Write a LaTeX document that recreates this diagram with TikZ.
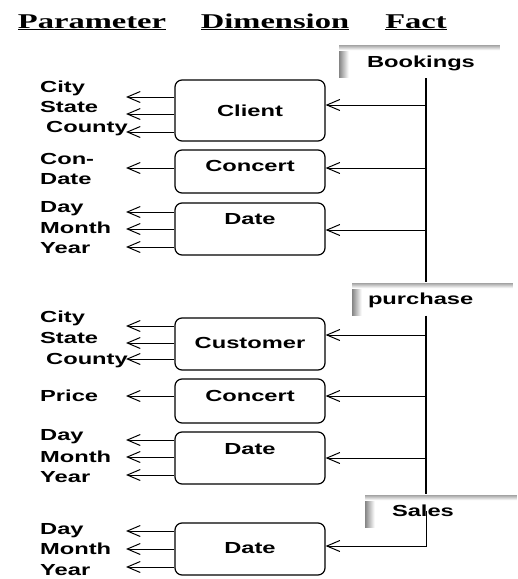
\documentclass[tikz,border=0pt]{standalone}
\usepackage{fontspec}
\newfontfamily\lblfont{Liberation Sans}[FakeStretch=1.48]
\newfontfamily\hdfont{Liberation Serif}[FakeStretch=1.55]
\usetikzlibrary{arrows.meta,calc,positioning}

\begin{document}
\begin{tikzpicture}[x=1pt,y=-1pt,
every node/.style={inner sep=0pt,font=\lblfont\bfseries\fontsize{16}{19}\selectfont},
head/.style={font=\hdfont\bfseries\fontsize{21}{24}\selectfont,anchor=base},
parm/.style={anchor=base west},
dim/.style={draw,line width=1.2pt,rounded corners=7pt,minimum width=150pt,text height=11.5pt,text depth=#1},
dim/.default=0pt,
fact/.style={text width=#1,align=left,minimum height=33pt,text height=11.5pt,text depth=0pt,
  path picture={
    \foreach \i [evaluate=\i as \c using int(48-5*\i)] in {0,...,9}
      \fill[black!\c] ([xshift=\i*1pt]path picture bounding box.north west) rectangle ([xshift=\i*1pt+1pt]path picture bounding box.south west);
    \foreach \i [evaluate=\i as \c using int(36-7*\i)] in {0,...,5}
      \fill[black!\c] ([yshift=-\i*1pt]path picture bounding box.north west) rectangle ([yshift=-\i*1pt-1pt]path picture bounding box.north east);}},
conn/.style={line width=1pt,-{Straight Barb[length=13pt,width=11pt]}}]
\useasboundingbox (0,0) rectangle (518,579);

% headings
\node[head] (H1) at (92,28) {\underline{Parameter}};
\node[head] (H2) at (275,28) {\underline{Dimension}};
\node[head] (H3) at (416,28) {\underline{Fact}};

% facts
\node[fact=161pt] (F1) at (419.5,61.5) {\hspace*{28pt}Bookings};
\node[fact=161pt] (F2) at (432.5,299) {\hspace*{16pt}purchase};
\node[fact=152pt] (F3) at (441,511) {\hspace*{27pt}Sales};
\coordinate (S) at (426,0);

% dimensions
\node[dim,minimum height=61pt] (D1) at (250,110.5) {Client};
\node[dim=11pt,minimum height=43pt] (D2) at (250,171.5) {Concert};
\node[dim=20pt,minimum height=52pt] (D3) at (250,229) {Date};
\node[dim=2pt,minimum height=52pt] (D4) at (250,344) {Customer};
\node[dim=11pt,minimum height=44pt] (D5) at (250,401) {Concert};
\node[dim=18pt,minimum height=52pt] (D6) at (250,458) {Date};
\node[dim=2pt,minimum height=52pt] (D7) at (250,549) {Date};

% parameters
\node[parm] (P1) at (40,92) {City};
\node[parm] (P2) at (40,112) {State};
\node[parm] (P3) at (46,132) {County};
\node[parm] (P4) at (40,164) {Con-};
\node[parm] (P5) at (40,184) {Date};
\node[parm] (P6) at (40,212) {Day};
\node[parm] (P7) at (40,233) {Month};
\node[parm] (P8) at (40,253) {Year};
\node[parm] (P9) at (40,322) {City};
\node[parm] (P10) at (40,343) {State};
\node[parm] (P11) at (46,364) {County};
\node[parm] (P12) at (40,401) {Price};
\node[parm] (P13) at (40,440) {Day};
\node[parm] (P14) at (40,462) {Month};
\node[parm] (P15) at (40,482) {Year};
\node[parm] (P16) at (40,534) {Day};
\node[parm] (P17) at (40,554) {Month};
\node[parm] (P18) at (40,575) {Year};

% fact spine
\draw[line width=1.5pt] (F1.south -| S) -- (F2.north -| S);
\draw[line width=1.5pt] (F2.south -| S) -- (F3.north -| S);
\foreach \d/\y in {D1/105,D2/168,D3/230,D4/335,D5/396,D6/458}
  \draw[conn] (S |- 0,\y) -- (\d.east |- 0,\y);
\draw[conn] (F3.center -| S) |- (D7.east |- 0,546);

% dimension to parameters
\foreach \d/\y in {D1/97,D1/114,D1/132,D2/168,D3/212,D3/229,D3/247,D4/326,D4/343,D4/359,D5/396,D6/440,D6/457,D6/475,D7/531,D7/549,D7/567}
  \draw[conn] (\d.west |- 0,\y) -- (126,\y);
\end{tikzpicture}
\end{document}
